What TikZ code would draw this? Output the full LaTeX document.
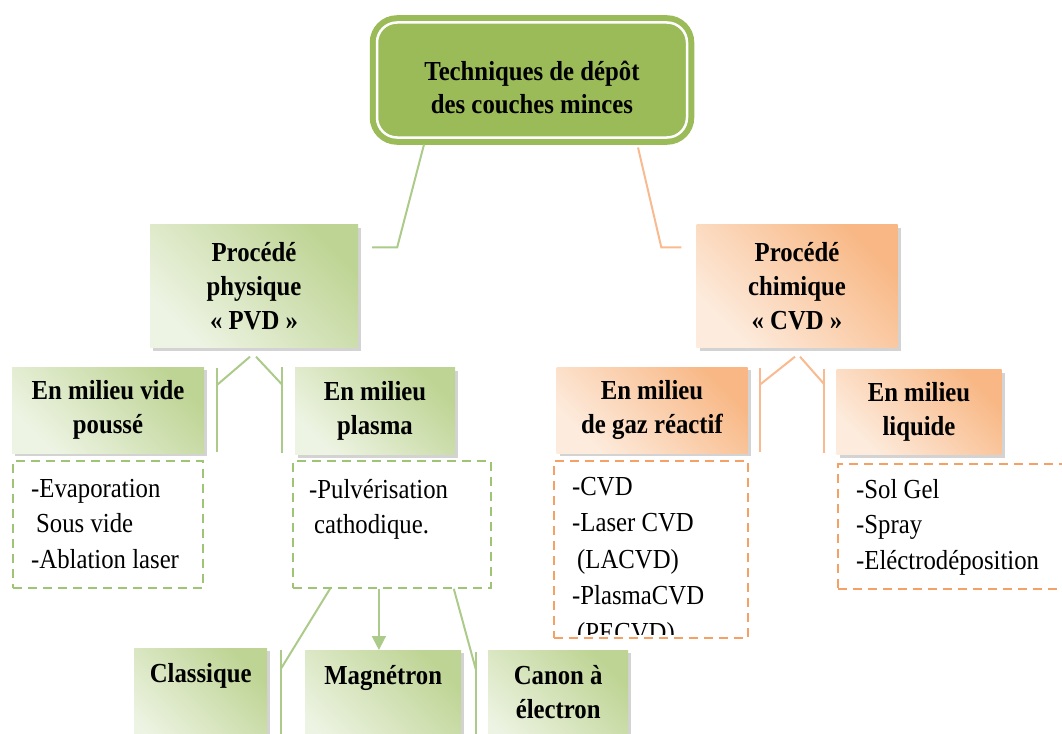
\documentclass[tikz,border=0pt]{standalone}
\usepackage{fontspec}
\setmainfont{Liberation Serif}[FakeStretch=0.9]
\usetikzlibrary{arrows.meta,shadows,positioning}
\definecolor{rootgreen}{RGB}{155,187,89}
\definecolor{gdark}{RGB}{190,212,148}
\definecolor{glight}{RGB}{238,244,228}
\definecolor{odark}{RGB}{248,183,132}
\definecolor{olight}{RGB}{253,236,222}
\definecolor{lineG}{RGB}{172,203,138}
\definecolor{lineO}{RGB}{248,186,142}
\definecolor{dashG}{RGB}{160,196,118}
\definecolor{dashO}{RGB}{245,160,100}

\begin{document}
\begin{tikzpicture}[x=1pt, y=-1pt,
	every node/.style={font=\fontsize{27.5}{34}\selectfont},
	btxt/.style={align=center, inner sep=0pt, font=\fontsize{27.5}{34}\selectfont\bfseries},
	gbox/.style={btxt, top color=gdark, bottom color=glight, shading angle=-45,
		drop shadow={shadow xshift=3pt, shadow yshift=-3pt, opacity=.35}},
	obox/.style={gbox, top color=odark, bottom color=olight, shading angle=-45},
	glist/.style={draw=dashG, dash pattern=on 9pt off 6pt, line width=1.8pt, anchor=north west, inner sep=0pt},
	olist/.style={glist, draw=dashO},
	items/.style={align=left, anchor=north west, inner sep=0pt, font=\fontsize{27.5}{35.5}\selectfont},
	lineg/.style={draw=lineG, line width=2pt},
	lineo/.style={draw=lineO, line width=2pt}
]
	\useasboundingbox (0,0) rectangle (1062,733);
	\clip (0,0) rectangle (1062,733);

	\node[draw=rootgreen, double=white, double distance=2.5pt, line width=6pt, fill=rootgreen,
		rounded corners=20pt, outer sep=0pt, minimum width=310pt, minimum height=115pt] (root) at (532,80) {};
	\node[btxt, font=\fontsize{27.5}{33}\selectfont\bfseries] (roottxt) at ([yshift=-7pt]root.center) {Techniques de dépôt\\des couches minces};

	\node[gbox, minimum width=208pt, minimum height=123pt] (pvd) at (254,286) {Procédé\\physique\\« PVD »};
	\node[obox, minimum width=201pt, minimum height=123pt] (cvd) at (797,286) {Procédé\\chimique\\« CVD »};

	\node[gbox, minimum width=192pt, minimum height=86pt] (vide) at (108,410) {En milieu vide\\poussé};
	\node[gbox, minimum width=160pt, minimum height=87pt] (plasma) at (375,411) {En milieu\\plasma};
	\node[obox, minimum width=191pt, minimum height=86pt] (gaz) at (652,410) {En milieu\\de gaz réactif};
	\node[obox, minimum width=165pt, minimum height=85pt] (liquide) at (919,412) {En milieu\\liquide};

	\node[glist, minimum width=190pt, minimum height=127pt] (videlist) at (12,460) {};
	\node[items] (videitems) at ([xshift=19pt,yshift=-19pt]videlist.north west) {-Evaporation\\\hspace{5pt}Sous vide\\-Ablation laser};
	\node[glist, minimum width=198pt, minimum height=127pt] (plasmalist) at (292,460) {};
	\node[items] (plasmaitems) at ([xshift=17pt,yshift=-19pt]plasmalist.north west) {-Pulvérisation\\\hspace{5pt}cathodique.};
	\node[olist, minimum width=194pt, minimum height=177pt] (gazlist) at (553,460) {};
	\begin{scope}
		\clip (gazlist.north west) rectangle ([yshift=4pt]gazlist.south east);
		\node[items, font=\fontsize{27.5}{36.5}\selectfont] (gazitems) at ([xshift=19pt,yshift=-17pt]gazlist.north west) {-CVD\\-Laser CVD\\\hspace{5pt}(LACVD)\\-PlasmaCVD\\\hspace{5pt}(PECVD)};
	\end{scope}
	\node[olist, minimum width=240pt, minimum height=125pt] (liquidelist) at (837,463) {};
	\node[items] (liquideitems) at ([xshift=19pt,yshift=-16pt]liquidelist.north west) {-Sol Gel\\-Spray\\-Eléctrodéposition};

	\node[gbox, anchor=north west, minimum width=133pt, minimum height=110pt] (classique) at (134,648) {};
	\node[btxt, anchor=north] (classiquetxt) at ([yshift=-15pt]classique.north) {Classique};
	\node[gbox, anchor=north west, minimum width=156pt, minimum height=110pt] (magnetron) at (305,650) {};
	\node[btxt, anchor=north] (magnetrontxt) at ([yshift=-15pt]magnetron.north) {Magnétron};
	\node[gbox, anchor=north west, minimum width=140pt, minimum height=110pt] (canon) at (488,650) {};
	\node[btxt, anchor=north] (canontxt) at ([yshift=-15pt]canon.north) {Canon à\\électron};

	% root to the two families
	\draw[lineg] ([xshift=47pt,yshift=-7pt]root.south west) -- ([xshift=39pt,yshift=-23pt]pvd.north east) -- ([xshift=14pt,yshift=-23pt]pvd.north east);
	\draw[lineo] ([xshift=-49pt,yshift=-10pt]root.south east) -- ([xshift=-35pt,yshift=-23pt]cvd.north west) -- ([xshift=-15pt,yshift=-23pt]cvd.north west);

	\draw[lineg] ([xshift=-4pt,yshift=-9pt]pvd.south) -- ([xshift=13pt,yshift=-18pt]vide.north east);
	\draw[lineg] ([xshift=13pt,yshift=-1pt]vide.north east) -- ([xshift=13pt,yshift=1pt]vide.south east);
	\draw[lineg] ([xshift=2pt,yshift=-9pt]pvd.south) -- ([xshift=-13pt,yshift=-17pt]plasma.north west);
	\draw[lineg] ([xshift=-13pt]plasma.north west) -- ([xshift=-13pt,yshift=2pt]plasma.south west);

	\draw[lineo] ([xshift=-2pt,yshift=-9pt]cvd.south) -- ([xshift=12pt,yshift=-18pt]gaz.north east);
	\draw[lineo] ([xshift=12pt,yshift=-1pt]gaz.north east) -- ([xshift=12pt,yshift=1pt]gaz.south east);
	\draw[lineo] ([xshift=3pt,yshift=-9pt]cvd.south) -- ([xshift=-12pt,yshift=-15pt]liquide.north west);
	\draw[lineo] ([xshift=-12pt]liquide.north west) -- ([xshift=-12pt,yshift=2pt]liquide.south west);

	% plasma to the three sources
	\draw[lineg] ([xshift=38pt]plasmalist.south west) -- ([xshift=14pt,yshift=-20pt]classique.north east);
	\draw[lineg] ([xshift=14pt,yshift=-2pt]classique.north east) -- ([xshift=14pt]classique.south east);
	\draw[lineg, -{Triangle[width=14pt,length=14pt]}] ([xshift=-13pt]plasmalist.south) -- ([xshift=-13pt]plasmalist.south |- magnetron.north);
	\draw[lineg] ([xshift=-38pt]plasmalist.south east) -- ([xshift=-12pt,yshift=-20pt]canon.north west);
	\draw[lineg] ([xshift=-12pt,yshift=-2pt]canon.north west) -- ([xshift=-12pt]canon.south west);
\end{tikzpicture}
\end{document}
